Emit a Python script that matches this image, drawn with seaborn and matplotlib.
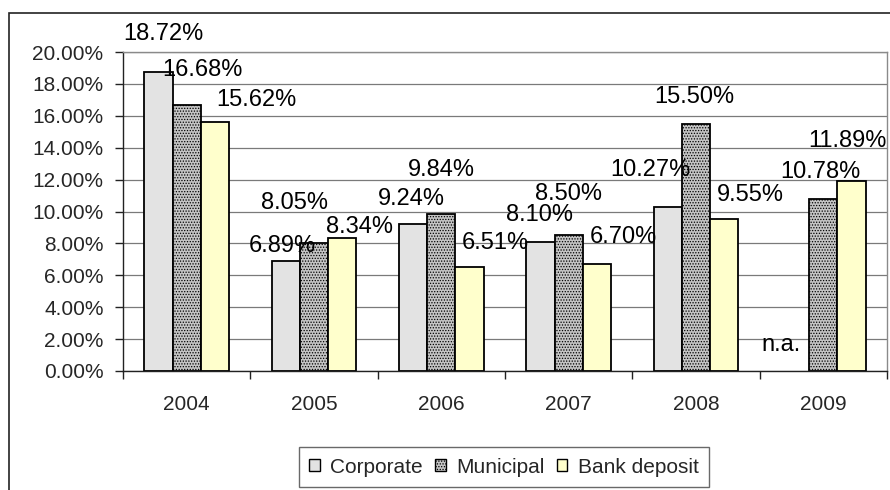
import numpy as np
import pandas as pd
import matplotlib
matplotlib.use("Agg")
import matplotlib.pyplot as plt
from matplotlib.patches import Patch, Rectangle
from matplotlib.ticker import FuncFormatter, FixedLocator
import seaborn as sns

# ---- data ----
years = ["2004", "2005", "2006", "2007", "2008", "2009"]
series = ["Corporate", "Municipal", "Bank deposit"]
corporate = [18.72, 6.89, 9.24, 8.10, 10.27, np.nan]
municipal = [16.68, 8.05, 9.84, 8.50, 15.50, 10.78]
bank_deposit = [15.62, 8.34, 6.51, 6.70, 9.55, 11.89]
missing_label = "n.a."
y_ticks = [0, 2, 4, 6, 8, 10, 12, 14, 16, 18, 20]

# label offsets (pixels: right, up) relative to the top centre of each bar
label_offsets = {
    "Corporate": [(5, 38), (-3, 15), (-2, 25), (-1, 27), (-17, 37), (-14, 26)],
    "Municipal": [(16, 35), (-19, 40), (0, 44), (0, 41), (-2, 27), (-3, 27)],
    "Bank deposit": [(41, 22), (17, 11), (26, 24), (26, 27), (26, 24), (-4, 40)],
}

df = pd.DataFrame({
    "year": years * 3,
    "series": [s for s in series for _ in years],
    "value": corporate + municipal + bank_deposit,
})

sns.set_theme(style="white")
plt.rcParams["font.family"] = ["Liberation Sans", "DejaVu Sans"]
plt.rcParams["hatch.linewidth"] = 0.6

colors = {"Corporate": "#E3E3E3", "Municipal": "#C4C4C4", "Bank deposit": "#FFFFCC"}

fig = plt.figure(figsize=(8.9, 4.9), dpi=100)
ax = fig.add_axes([123 / 890, 1 - 371 / 490, (887 - 123) / 890, (371 - 52) / 490])

group_width = 3 / 4.5
sns.barplot(data=df, x="year", y="value", hue="series", order=years,
            hue_order=series, palette=colors, width=group_width,
            edgecolor="black", linewidth=1.3, errorbar=None, ax=ax,
            legend=False, saturation=1)

# hatch the municipal bars
for cont, s in zip(ax.containers, series):
    if s == "Municipal":
        for p in cont:
            p.set_hatch("......")

ax.set_xlim(-0.5, len(years) - 0.5)
ax.set_ylim(0, 20)
ax.yaxis.set_major_locator(FixedLocator(y_ticks))
ax.yaxis.set_major_formatter(FuncFormatter(lambda v, _: f"{v:.2f}%"))
ax.grid(axis="y", color="#7a7a7a", linewidth=0.9)
ax.set_axisbelow(True)
ax.set_xlabel("")
ax.set_ylabel("")

for side in ["top", "right"]:
    ax.spines[side].set_color("#8a8a8a")
    ax.spines[side].set_linewidth(1.0)
for side in ["left", "bottom"]:
    ax.spines[side].set_color("#222222")
    ax.spines[side].set_linewidth(1.0)

ax.tick_params(axis="y", which="major", direction="out", length=6, width=1,
               color="#222222", labelsize=15, pad=8, left=True)
ax.set_xticks(np.arange(-0.5, len(years), 1.0), minor=True)
ax.tick_params(axis="x", which="minor", direction="out", length=6, width=1,
               color="#222222", bottom=True)
ax.tick_params(axis="x", which="major", length=0, labelsize=15, pad=17)

# data labels
bar_w = group_width / 3
for k, s in enumerate(series):
    vals = df[df.series == s]["value"].tolist()
    for i, v in enumerate(vals):
        xc = i + (k - 1) * bar_w
        dx, up = label_offsets[s][i]
        if np.isnan(v):
            txt, yv = missing_label, 0
        else:
            txt, yv = f"{v:.2f}%", v
        ax.annotate(txt, xy=(xc, yv), xytext=(dx, up), textcoords="offset pixels",
                    ha="center", va="center", fontsize=17, color="black",
                    annotation_clip=False)

# legend
handles = [Patch(facecolor=colors[s], edgecolor="black", linewidth=1.0,
                 hatch="......" if s == "Municipal" else None) for s in series]
leg = fig.legend(handles, series, loc="center", bbox_to_anchor=(504 / 890, 1 - 467 / 490),
                 ncol=3, frameon=True, fancybox=False, fontsize=15,
                 handlelength=0.5, handleheight=0.5, handletextpad=0.5,
                 columnspacing=0.6, borderpad=0.5, borderaxespad=0)
leg.get_frame().set_edgecolor("#444444")
leg.get_frame().set_linewidth(1.0)

# outer chart frame
fig.patches.append(Rectangle((9 / 890, -0.2), 1.2, 0.2 + 1 - 13 / 490,
                             transform=fig.transFigure, fill=False,
                             edgecolor="#222222", linewidth=1.2))

fig.savefig("out.png", dpi=100)
